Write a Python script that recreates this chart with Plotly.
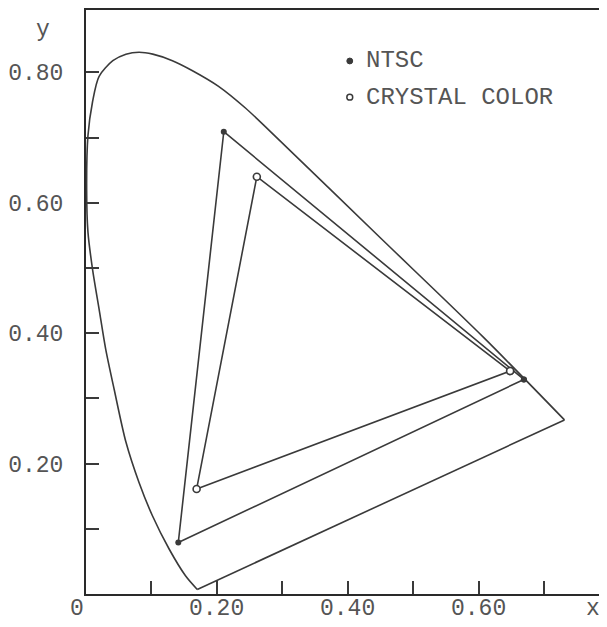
import plotly.graph_objects as go

# ---- data ----
# CIE 1931 spectral locus (as drawn), from blue end up around to red end
locus_x = [0.170, 0.152, 0.127, 0.1015, 0.081, 0.061, 0.043, 0.030, 0.020, 0.010,
           0.003, 0.001, 0.003, 0.010, 0.020, 0.041, 0.061, 0.081, 0.102, 0.132,
           0.162, 0.202, 0.244, 0.283, 0.450, 0.607, 0.731]
locus_y = [0.007, 0.028, 0.069, 0.120, 0.171, 0.233, 0.314, 0.376, 0.437, 0.498,
           0.555, 0.620, 0.703, 0.755, 0.794, 0.818, 0.828, 0.831, 0.828, 0.818,
           0.803, 0.779, 0.745, 0.708, 0.546, 0.394, 0.267]

# primaries: R, G, B
ntsc_x = [0.669, 0.2105, 0.141]
ntsc_y = [0.329, 0.709, 0.079]
crystal_x = [0.648, 0.261, 0.169]
crystal_y = [0.342, 0.640, 0.161]

x_tickvals = [0.1, 0.2, 0.3, 0.4, 0.5, 0.6, 0.7]
x_ticktext = ["", "0.20", "", "0.40", "", "0.60", ""]
y_tickvals = [0.1, 0.2, 0.3, 0.4, 0.5, 0.6, 0.7, 0.8]
y_ticktext = ["", "0.20", "", "0.40", "", "0.60", "", "0.80"]

legend_names = ["NTSC", "CRYSTAL COLOR"]

LINE = "#3a3a3a"
TEXT = "#555555"
FONT = "Liberation Mono, DejaVu Sans Mono, monospace"

fig = go.Figure()

# spectral locus (curved part)
fig.add_trace(go.Scatter(x=locus_x, y=locus_y, mode="lines",
                         line=dict(color=LINE, width=1.6, shape="spline", smoothing=0.8),
                         hoverinfo="skip", showlegend=False))
# purple line (closing straight edge)
fig.add_trace(go.Scatter(x=[locus_x[-1], locus_x[0]], y=[locus_y[-1], locus_y[0]],
                         mode="lines", line=dict(color=LINE, width=1.6),
                         hoverinfo="skip", showlegend=False))

# NTSC triangle
fig.add_trace(go.Scatter(x=ntsc_x + ntsc_x[:1], y=ntsc_y + ntsc_y[:1], mode="lines+markers",
                         line=dict(color=LINE, width=1.6),
                         marker=dict(symbol="circle", size=6, color=LINE),
                         name=legend_names[0], showlegend=False))
# Crystal color triangle
fig.add_trace(go.Scatter(x=crystal_x + crystal_x[:1], y=crystal_y + crystal_y[:1],
                         mode="lines+markers",
                         line=dict(color=LINE, width=1.6),
                         marker=dict(symbol="circle", size=7, color="white",
                                     line=dict(color=LINE, width=1.6)),
                         name=legend_names[1], showlegend=False))

# legend drawn manually (typewritten style)
r = 0.0045
shapes = [
    dict(type="circle", xref="x", yref="y", x0=0.403 - r, x1=0.403 + r,
         y0=0.8175 - r, y1=0.8175 + r, fillcolor=LINE, line=dict(color=LINE, width=1)),
    dict(type="circle", xref="x", yref="y", x0=0.403 - r, x1=0.403 + r,
         y0=0.762 - r, y1=0.762 + r, fillcolor="white", line=dict(color=LINE, width=1.5)),
]
lab_font = dict(family=FONT, size=23, color=TEXT)
annotations = [
    dict(x=0.424, y=0.8175, xref="x", yref="y", text=legend_names[0], showarrow=False,
         xanchor="left", yanchor="middle", font=dict(family=FONT, size=24, color=TEXT)),
    dict(x=0.424, y=0.762, xref="x", yref="y", text=legend_names[1], showarrow=False,
         xanchor="left", yanchor="middle", font=dict(family=FONT, size=24, color=TEXT)),
    # axis letters and origin label
    dict(x=-0.082, y=0.966, xref="paper", yref="paper", text="y", showarrow=False,
         xanchor="center", yanchor="middle", font=lab_font),
    dict(x=-0.017, y=0, xref="paper", yref="paper", yshift=-15, text="0", showarrow=False,
         xanchor="center", yanchor="middle", font=lab_font),
    dict(x=0.973, y=0, xref="paper", yref="paper", yshift=-15, text="x", showarrow=False,
         xanchor="center", yanchor="middle", font=lab_font),
]
# x tick labels placed just under the axis, as in the typed original
for tv, tt in zip(x_tickvals, x_ticktext):
    if tt:
        annotations.append(dict(x=tv, y=0, xref="x", yref="paper", yshift=-15, text=tt,
                                showarrow=False, xanchor="center", yanchor="middle",
                                font=lab_font))

# page body has an 8px margin; size the figure to fill the rest of the window
fig.update_layout(
    width=599, height=619,
    margin=dict(l=76, r=0, t=2, b=33),
    paper_bgcolor="white", plot_bgcolor="white",
    shapes=shapes, annotations=annotations,
    font=dict(family=FONT, size=23, color=TEXT),
)
fig.update_xaxes(range=[0, 0.796], tickvals=x_tickvals, ticktext=x_ticktext,
                 showticklabels=False,
                 ticks="inside", ticklen=13, tickwidth=1.5, tickcolor=LINE,
                 showline=True, linecolor="#2a2a2a", linewidth=2, mirror=True,
                 showgrid=False, zeroline=False)
fig.update_yaxes(range=[0, 0.8957], tickvals=y_tickvals, ticktext=y_ticktext,
                 ticks="inside", ticklen=13, tickwidth=1.5, tickcolor=LINE,
                 showline=True, linecolor="#2a2a2a", linewidth=2,
                 showgrid=False, zeroline=False, ticklabelstandoff=16,
                 tickfont=lab_font)

fig.write_html("out.html")
